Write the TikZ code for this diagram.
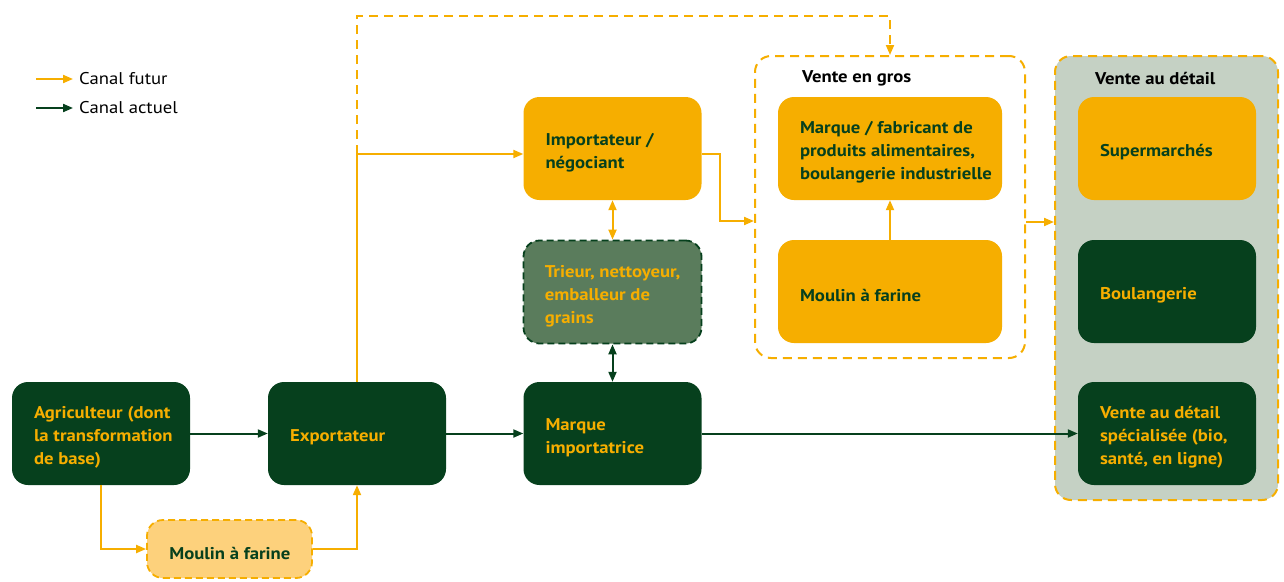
\documentclass[tikz,border=0pt]{standalone}
\usepackage{fontspec}
\setmainfont{PT Sans}[FakeStretch=1.1]
\usetikzlibrary{arrows.meta,calc}
\definecolor{cyel}{HTML}{F6AE00}
\definecolor{cgrn}{HTML}{06401D}
\definecolor{ctri}{HTML}{5A7C5C}
\definecolor{clor}{HTML}{FDD17C}
\definecolor{cret}{HTML}{C5D1C4}
\tikzset{
  boxbase/.style={rectangle, rounded corners=16pt, minimum width=178pt, minimum height=103pt, inner sep=0pt},
  ybox/.style={boxbase, fill=cyel},
  gbox/.style={boxbase, fill=cgrn},
  tribox/.style={boxbase, fill=ctri, draw=cgrn, line width=1.8pt, dash pattern=on 7pt off 4pt},
  millbox/.style={boxbase, minimum width=165pt, minimum height=58pt, fill=clor, draw=cyel, line width=1.8pt, dash pattern=on 7pt off 4pt},
  container/.style={rectangle, rounded corners=16pt, inner sep=0pt, draw=cyel, line width=2pt, dash pattern=on 9pt off 6pt},
  ytext/.style={anchor=west, align=left, inner sep=0pt, text=cyel, font=\fontsize{17}{23}\selectfont\bfseries},
  gtext/.style={anchor=west, align=left, inner sep=0pt, text=cgrn, font=\fontsize{17}{23}\selectfont\bfseries},
  ttl/.style={anchor=west, inner sep=0pt, text=black, font=\fontsize{17}{23}\selectfont\bfseries},
  legtext/.style={anchor=west, inner sep=0pt, text=black, font=\fontsize{17}{23}\selectfont},
  yarrow/.style={draw=cyel, line width=2pt, -{Triangle[length=10pt,width=8pt]}},
  garrow/.style={draw=cgrn, line width=2pt, -{Triangle[length=10pt,width=8pt]}},
  yarrow2/.style={draw=cyel, line width=2pt, {Triangle[length=10pt,width=8pt]}-{Triangle[length=10pt,width=8pt]}},
  garrow2/.style={draw=cgrn, line width=2pt, {Triangle[length=10pt,width=8pt]}-{Triangle[length=10pt,width=8pt]}},
  ydash/.style={draw=cyel, line width=2pt, dash pattern=on 9pt off 6pt, -{Triangle[length=10pt,width=8pt]}},
}
\begin{document}
\begin{tikzpicture}[x=1pt,y=-1pt]
\useasboundingbox (0,0) rectangle (1284,581);

% containers
\node[container, fill=white, minimum width=270pt, minimum height=302pt] (gros) at (890,207) {};
\node[container, fill=cret, minimum width=223pt, minimum height=444pt] (retail) at (1166.5,278) {};
\node[ttl] (grosT) at (802,78) {Vente en gros};
\node[ttl] (retailT) at (1095,78) {Vente au détail};

% boxes
\node[gbox] (agri) at (101,433.5) {};
\node[ytext] (agriT) at ([xshift=22pt,yshift=-4pt]agri.west) {Agriculteur (dont\\la transformation\\de base)};
\node[gbox] (expo) at (357,433.5) {};
\node[ytext] (expoT) at ([xshift=22pt,yshift=-4pt]expo.west) {Exportateur};
\node[gbox] (mimp) at (612.5,433.5) {};
\node[ytext] (mimpT) at ([xshift=22pt,yshift=-4pt]mimp.west) {Marque\\importatrice};
\node[ybox] (imp) at (612.5,148.5) {};
\node[gtext] (impT) at ([xshift=22pt,yshift=-4pt]imp.west) {Importateur /\\négociant};
\node[tribox] (tri) at (612.5,292) {};
\node[ytext] (triT) at ([xshift=22pt,yshift=-4pt]tri.west) {Trieur, nettoyeur,\\emballeur de\\grains};
\node[millbox] (mill1) at (229.5,549) {};
\node[gtext] (mill1T) at ([xshift=23pt,yshift=-4pt]mill1.west) {Moulin à farine};
\node[ybox, minimum width=224pt] (fab) at (890,148.5) {};
\node[gtext] (fabT) at ([xshift=22pt,yshift=-4pt]fab.west) {Marque / fabricant de\\produits alimentaires,\\boulangerie industrielle};
\node[ybox, minimum width=224pt] (mill2) at (890,291.5) {};
\node[gtext] (mill2T) at ([xshift=22pt,yshift=-4pt]mill2.west) {Moulin à farine};
\node[ybox] (sup) at (1167,148.5) {};
\node[gtext] (supT) at ([xshift=22pt,yshift=-4pt]sup.west) {Supermarchés};
\node[gbox] (boul) at (1167,291.5) {};
\node[ytext] (boulT) at ([xshift=22pt,yshift=-4pt]boul.west) {Boulangerie};
\node[gbox] (vspec) at (1167,433.5) {};
\node[ytext] (vspecT) at ([xshift=22pt,yshift=-4pt]vspec.west) {Vente au détail\\spécialisée (bio,\\santé, en ligne)};

% legend
\coordinate (l1a) at (36,79); \coordinate (l1b) at (73,79);
\coordinate (l2a) at (36,108); \coordinate (l2b) at (73,108);
\draw[yarrow] (l1a) -- (l1b);
\draw[garrow] (l2a) -- (l2b);
\node[legtext] (leg1) at (79,79) {Canal futur};
\node[legtext] (leg2) at (79,108) {Canal actuel};

% connectors
\draw[garrow] (agri) -- (expo);
\draw[garrow] (expo) -- (mimp);
\draw[garrow] (mimp) -- (vspec);
\draw[garrow2] (tri) -- (mimp);
\draw[yarrow2] (imp) -- (tri);
\coordinate (c1) at (expo.north |- 0,154);
\draw[yarrow] (expo.north) -- (c1) -- (imp.west |- c1);
\coordinate (c2) at (357,16);
\draw[ydash] (c1) -- (c2) -| (gros.north);
\coordinate (c3) at (720,154);
\coordinate (gin) at (gros.west |- 0,221);
\draw[yarrow] (imp.east |- c3) -- (c3) |- (gin);
\coordinate (gout) at (gros.east |- 0,222);
\draw[yarrow] (gout) -- (retail.west |- gout);
\draw[yarrow] (mill2) -- (fab);
\draw[yarrow] (agri.south) |- (mill1.west);
\draw[yarrow] (mill1.east) -| (expo.south);
\end{tikzpicture}
\end{document}
